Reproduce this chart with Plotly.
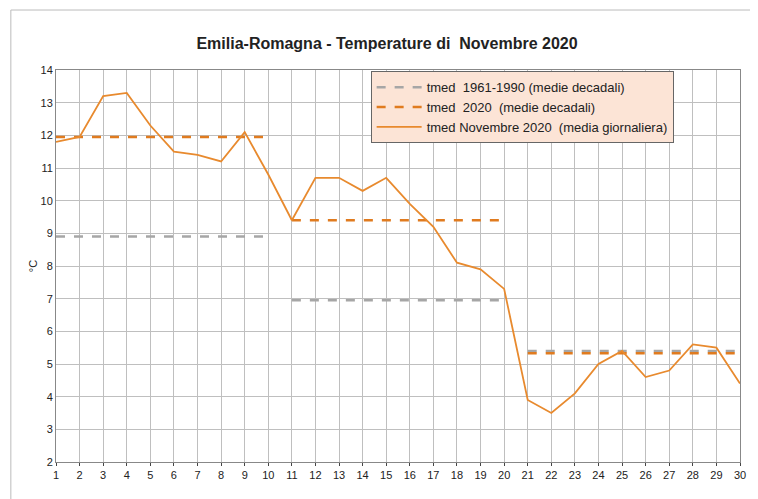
import plotly.graph_objects as go

giorni = list(range(1, 31))
tmed_giorno = [11.8, 11.95, 13.2, 13.3, 12.3, 11.5, 11.4, 11.2, 12.1, 10.8,
               9.4, 10.7, 10.7, 10.3, 10.7, 9.9, 9.2, 8.1, 7.9, 7.3,
               3.9, 3.5, 4.1, 5.0, 5.4, 4.6, 4.8, 5.6, 5.5, 4.4]
decadi = [(1, 10), (11, 20), (21, 30)]
clima_decadi = [8.9, 6.95, 5.4]
tmed2020_decadi = [11.95, 9.4, 5.33]

fig = go.Figure()

for i, (a, b) in enumerate(decadi):
    fig.add_trace(go.Scatter(x=[a, b], y=[clima_decadi[i]] * 2, mode='lines',
                             line=dict(color='#a6a6a6', width=2.5, dash='dash'),
                             name='tmed  1961-1990 (medie decadali)', showlegend=(i == 0)))
for i, (a, b) in enumerate(decadi):
    fig.add_trace(go.Scatter(x=[a, b], y=[tmed2020_decadi[i]] * 2, mode='lines',
                             line=dict(color='#e07b1f', width=2.5, dash='dash'),
                             name='tmed  2020  (medie decadali)', showlegend=(i == 0)))

fig.add_trace(go.Scatter(x=giorni, y=tmed_giorno, mode='lines',
                         line=dict(color='#e88a2e', width=1.8),
                         name='tmed Novembre 2020  (media giornaliera)'))

fig.update_layout(
    width=758, height=499,
    paper_bgcolor='white', plot_bgcolor='white',
    margin=dict(l=48, r=26, t=62, b=45),
    font=dict(family='Liberation Sans, Arial', size=12, color='#222'),
    title=dict(text='<b>Emilia-Romagna - Temperature di  Novembre 2020</b>',
               x=0.5, y=0.93, yref='container', xanchor='center', yanchor='middle',
               font=dict(size=16)),
    legend=dict(x=0.46, y=0.997, xanchor='left', yanchor='top',
                bgcolor='#fce4d6', bordercolor='#666', borderwidth=1,
                font=dict(size=13), tracegroupgap=10, itemwidth=45),
    shapes=[dict(type='rect', xref='paper', yref='paper',
                 x0=-0.066, x1=1.034, y0=-0.11, y1=1.153,
                 line=dict(color='#bbb', width=1))],
    annotations=[dict(text='°C', xref='paper', yref='paper', x=-0.045, y=0.5,
                      showarrow=False, textangle=-90, font=dict(size=11))],
)
fig.update_xaxes(range=[1, 30], tickmode='linear', dtick=1, showgrid=True,
                 gridcolor='#bfbfbf', showline=True, linecolor='#888',
                 tickfont=dict(size=11, color='#222'), ticks='outside', ticklen=3,
                 mirror=True, zeroline=False, automargin=False)
fig.update_yaxes(range=[2, 14], dtick=1, showgrid=True, gridcolor='#bfbfbf',
                 showline=True, linecolor='#888', mirror=True,
                 tickfont=dict(size=11, color='#222'), zeroline=False, automargin=False)

fig.write_html("out.html")
